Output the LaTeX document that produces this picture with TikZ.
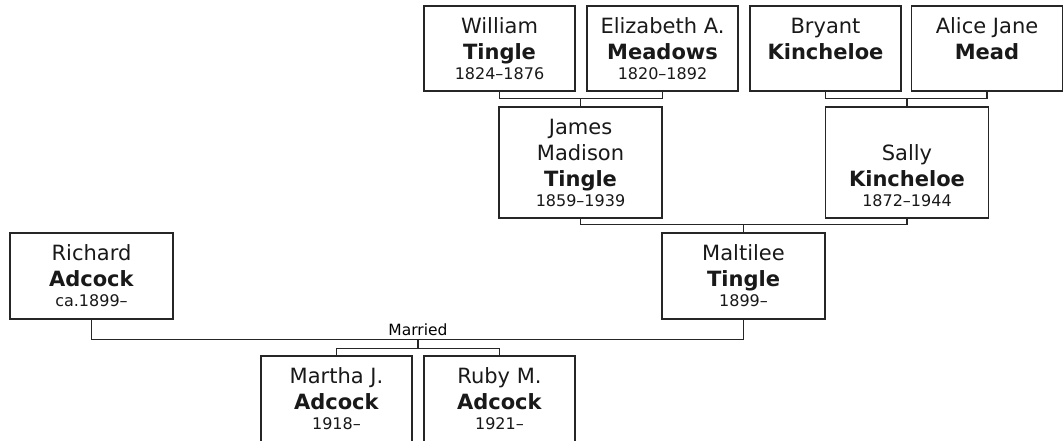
\documentclass[tikz,border=0pt]{standalone}
\usepackage{fontspec}
\setmainfont{DejaVu Sans}
\usepackage{tikz}
\usetikzlibrary{positioning, calc}

\newcommand{\personfont}{\fontsize{21}{26}\selectfont}
\newcommand{\yearsfont}{\fontsize{16}{20}\selectfont}

\begin{document}
\begin{tikzpicture}[x=1pt, y=-1pt,
        person/.style={rectangle, draw=black!85, line width=1.3pt, fill=white, align=center, inner sep=0pt, font=\personfont, text=black!90},
        parent/.style={person, minimum width=151pt, minimum height=85pt},
        grand/.style={person, minimum width=163pt, minimum height=111pt},
        spouse/.style={person, minimum width=163pt, minimum height=86pt},
        child/.style={person, minimum width=151pt, minimum height=86pt},
        link/.style={draw=black!85, line width=1.3pt}]

        \useasboundingbox[fill=white] (0,0) rectangle (1063,441);

        % Great-grandparents
        \node[parent] (william) at (499.5,48.5) {William\\\textbf{Tingle}\\[-6pt]{\yearsfont 1824–1876}};
        \node[parent] (elizabeth) at (662.5,48.5) {Elizabeth A.\\\textbf{Meadows}\\[-6pt]{\yearsfont 1820–1892}};
        \node[parent] (bryant) at (825.5,48.5) {Bryant\\\textbf{Kincheloe}\\[-6pt]{\yearsfont\phantom{1}}};
        \node[parent] (alice) at (987,48.5) {Alice Jane\\\textbf{Mead}\\[-6pt]{\yearsfont\phantom{1}}};

        % Grandparents
        \node[grand] (james) at (580.5,162.5) {James\\Madison\\\textbf{Tingle}\\[-6pt]{\yearsfont 1859–1939}};
        \node[grand] (sally) at (907,162.5) {\phantom{J}\\Sally\\\textbf{Kincheloe}\\[-6pt]{\yearsfont 1872–1944}};

        % Parents
        \node[spouse] (richard) at (91.5,276) {Richard\\\textbf{Adcock}\\[-6pt]{\yearsfont ca.1899–}};
        \node[spouse] (maltilee) at (743.5,276) {Maltilee\\\textbf{Tingle}\\[-6pt]{\yearsfont 1899–}};

        % Children
        \node[child] (martha) at (336.5,399) {Martha J.\\\textbf{Adcock}\\[-6pt]{\yearsfont 1918–}};
        \node[child] (ruby) at (499.5,399) {Ruby M.\\\textbf{Adcock}\\[-6pt]{\yearsfont 1921–}};

        % Tingle side
        \draw[link] (william.south) |- ($(james.north)+(0,-8)$) -| (elizabeth.south);
        \draw[link] (james.north) -- ++(0,-8);

        % Kincheloe side
        \draw[link] (bryant.south) |- ($(sally.north)+(0,-8)$) -| (alice.south);
        \draw[link] (sally.north) -- ++(0,-8);

        % Maltilee's parents
        \draw[link] (james.south) |- ($(maltilee.north)+(0,-8)$) -| (sally.south);
        \draw[link] (maltilee.north) -- ++(0,-8);

        % Marriage
        \coordinate (wed) at ($(martha.north)!0.5!(ruby.north)+(0,-16)$);
        \draw[link] (richard.south) |- (wed) -| (maltilee.south);
        \node[above=3pt of wed, inner sep=0pt, font=\fontsize{15.5}{18}\selectfont] (married) {Married};

        % Children
        \draw[link] (martha.north) |- ($(wed)+(0,9)$) -| (ruby.north);
        \draw[link] (wed) -- ++(0,9);
      \end{tikzpicture}
\end{document}
